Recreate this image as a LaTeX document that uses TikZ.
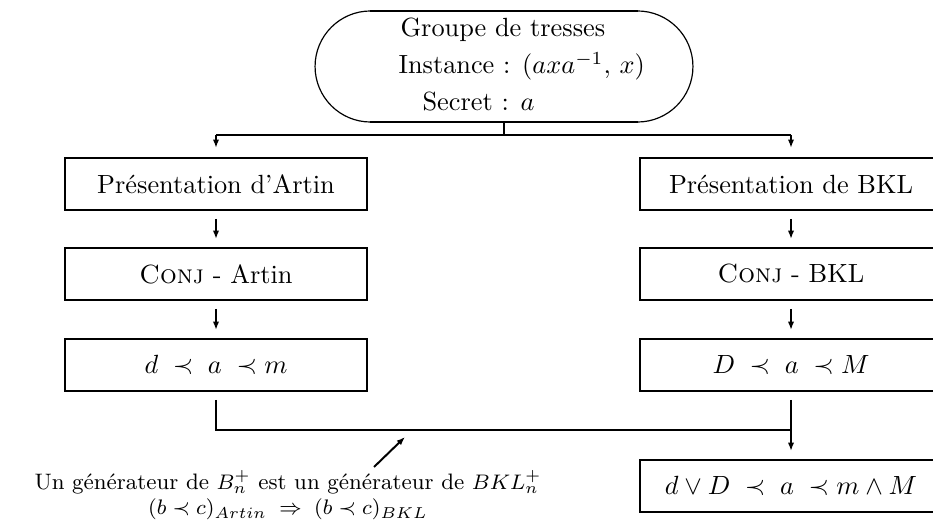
\documentclass[tikz,border=0pt]{standalone}
\usepackage{fontspec}
\usetikzlibrary{arrows.meta,shapes.misc}
\begin{document}
\begin{tikzpicture}[x=0.38pt,y=-0.38pt,
  box/.style={draw, line width=0.75pt, minimum width=115.1pt, minimum height=19.8pt, inner sep=0pt},
  conn/.style={line width=0.75pt},
  arr/.style={line width=0.75pt, -{Latex[length=3.2pt,width=2.4pt]}},
  txt/.style={inner sep=0pt}]
\useasboundingbox (0,0) rectangle (933,527);
% terminal
\node[draw, rounded rectangle, line width=0.45pt, minimum width=143.6pt, minimum height=42.2pt, inner sep=0pt] (term) at (504,66.5) {};
\draw[line width=0.75pt] (370,11) -- (638,11) (370,122) -- (638,122);
\node[txt, anchor=base west] (t1) at (400,37) {Groupe de tresses};
\node[txt, anchor=base west] (t2) at (398,74) {Instance : $(axa^{-1},\, x)$};
\node[txt, anchor=base west] (t3) at (422,111) {Secret : $a$};
% boxes
\node[box] (a1) at (216,184) {Présentation d'Artin};
\node[box] (a2) at (216,274) {\textsc{Conj} - Artin};
\node[box] (a3) at (216,365) {$d \;\prec\; a \;\prec m$};
\node[box] (b1) at (791,184) {Présentation de BKL};
\node[box] (b2) at (791,274) {\textsc{Conj} - BKL};
\node[box] (b3) at (791,365) {$D \;\prec\; a \;\prec M$};
\node[box] (b4) at (791,486) {$d\vee D \;\prec\; a \;\prec m\wedge M$};
% connectors
\coordinate (split) at (504,135);
\coordinate (jl) at (216,135);
\coordinate (jr) at (791,135);
\draw[conn] (term.south) -- (split);
\draw[conn] (jl) -- (jr);
\draw[arr, shorten >=3.4pt] (jl) -- (a1.north);
\draw[arr, shorten >=3.4pt] (jr) -- (b1.north);
\draw[arr, shorten <=3pt, shorten >=3pt] (a1) -- (a2);
\draw[arr, shorten <=3pt, shorten >=3pt] (a2) -- (a3);
\draw[arr, shorten <=3pt, shorten >=3pt] (b1) -- (b2);
\draw[arr, shorten <=3pt, shorten >=3pt] (b2) -- (b3);
\coordinate (ml) at (216,430);
\coordinate (mr) at (791,430);
\draw[conn, shorten <=3pt] (a3.south) -- (ml) -- (mr);
\draw[arr, shorten <=3pt, shorten >=3pt] (b3) -- (b4);
% annotation
\node[txt, anchor=base, align=center, font=\fontsize{8.5}{9.6}\selectfont] (note) at (288,515)
  {Un générateur de $B_n^+$ est un générateur de $BKL_n^+$\\
   $(b\prec c)_{Artin}\;\Rightarrow\;(b\prec c)_{BKL}$};
\coordinate (tail) at (374,467);
\coordinate (head) at (405,437);
\draw[arr] (tail) -- (head);
\end{tikzpicture}
\end{document}
